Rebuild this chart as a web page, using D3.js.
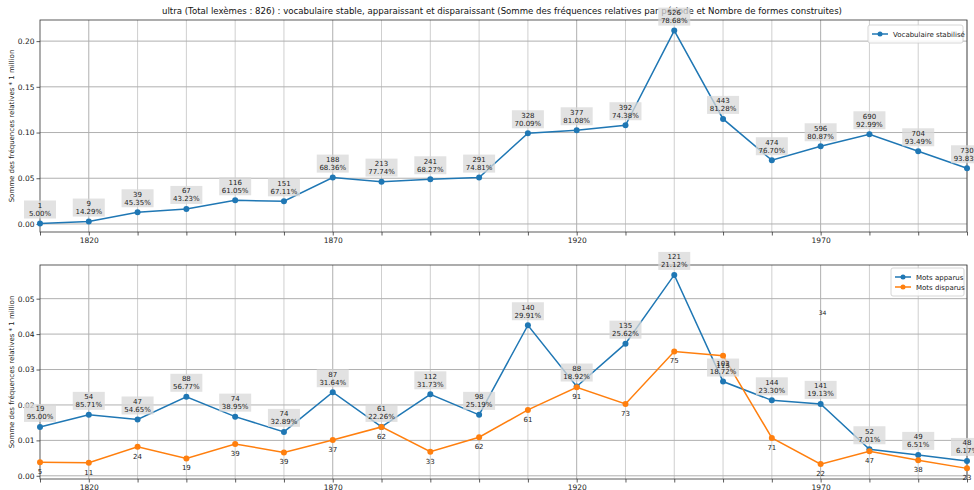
<!DOCTYPE html>
<html>
<head>
<meta charset="utf-8">
<script src="https://cdn.jsdelivr.net/npm/d3@7"></script>
<style>
  body { margin: 0; background: #fff; }
  svg { font-family: "DejaVu Sans", sans-serif; display: block; }
</style>
</head>
<body>
<div id="chart"></div>
<script>
// periods (decades)
const years = [1810, 1820, 1830, 1840, 1850, 1860, 1870, 1880, 1890, 1900,
               1910, 1920, 1930, 1940, 1950, 1960, 1970, 1980, 1990, 2000];
const majorYears = [1820, 1870, 1920, 1970];

// top: vocabulaire stabilisé
const stableValues = [0.0005, 0.0026, 0.0128, 0.0164, 0.0259, 0.0248, 0.0507, 0.0463, 0.0489, 0.0507,
                      0.0992, 0.1025, 0.1080, 0.2115, 0.1149, 0.0697, 0.0850, 0.0981, 0.0795, 0.0609];
const stableCounts = [1, 9, 39, 67, 116, 151, 188, 213, 241, 291,
                      328, 377, 392, 526, 443, 474, 596, 690, 704, 730];
const stablePct = ["5.00%", "14.29%", "45.35%", "43.23%", "61.05%", "67.11%", "68.36%", "77.74%", "68.27%", "74.81%",
                   "70.09%", "81.08%", "74.38%", "78.68%", "81.28%", "76.70%", "80.87%", "92.99%", "93.49%", "93.83%"];

// bottom: mots apparus / disparus
const apparusValues = [0.0138, 0.0172, 0.0159, 0.0223, 0.0167, 0.0124, 0.0236, 0.0138, 0.0230, 0.0172,
                       0.0425, 0.0252, 0.0373, 0.0567, 0.0266, 0.0213, 0.0203, 0.0075, 0.0059, 0.0042];
const apparusCounts = [19, 54, 47, 88, 74, 74, 87, 61, 112, 98,
                       140, 88, 135, 121, 102, 144, 141, 52, 49, 48];
const apparusPct = ["95.00%", "85.71%", "54.65%", "56.77%", "38.95%", "32.89%", "31.64%", "22.26%", "31.73%", "25.19%",
                    "29.91%", "18.92%", "25.62%", "21.12%", "18.72%", "23.30%", "19.13%", "7.01%", "6.51%", "6.17%"];
const disparusValues = [0.0038, 0.0037, 0.0082, 0.0049, 0.0090, 0.0066, 0.0101, 0.0138, 0.0068, 0.0109,
                        0.0186, 0.0250, 0.0203, 0.0351, 0.0339, 0.0107, 0.0033, 0.0069, 0.0044, 0.0021];
const disparusCounts = [5, 11, 24, 19, 39, 39, 37, 62, 33, 62,
                        61, 91, 73, 75, 113, 71, 22, 47, 38, 23];
const strayLabel = { year: 1970, value: 0.0455, text: "34" };

const topTicks = [0, 0.05, 0.10, 0.15, 0.20];
const bottomTicks = [0, 0.01, 0.02, 0.03, 0.04, 0.05];

const width = 974, height = 490;
const blue = "#1f77b4", orange = "#ff7f0e";

const svg = d3.select("#chart").append("svg")
    .attr("width", width)
    .attr("height", height);

svg.append("text")
    .attr("x", 502).attr("y", 14)
    .attr("text-anchor", "middle")
    .attr("font-size", 8.6)
    .attr("fill", "#111")
    .text("ultra (Total lexèmes : 826) : vocabulaire stable, apparaissant et disparaissant (Somme des fréquences relatives par période et Nombre de formes construites)");

const x = d3.scaleLinear().domain([1810, 2000]).range([40, 967]);

function drawPanel(top, bottom, yDomain, yTicks, fmt) {
    const y = d3.scaleLinear().domain(yDomain).range([bottom, top]);
    const g = svg.append("g");

    // grid
    g.selectAll(".vgrid").data(years.slice(1)).enter().append("line")
        .attr("x1", d => x(d)).attr("x2", d => x(d))
        .attr("y1", top).attr("y2", bottom)
        .attr("stroke", d => majorYears.includes(d) ? "#b0b0b0" : "#cfcfcf")
        .attr("stroke-width", 1);
    g.selectAll(".hgrid").data(yTicks).enter().append("line")
        .attr("x1", 40).attr("x2", 967)
        .attr("y1", d => y(d)).attr("y2", d => y(d))
        .attr("stroke", "#b0b0b0")
        .attr("stroke-width", 1);

    // axes
    const yAxis = g.append("g")
        .attr("transform", "translate(40,0)")
        .call(d3.axisLeft(y).tickValues(yTicks).tickFormat(fmt).tickSize(3.5).tickPadding(2));
    const xAxis = g.append("g")
        .attr("transform", `translate(0,${bottom})`)
        .call(d3.axisBottom(x).tickValues(years).tickSize(3.5).tickPadding(2)
            .tickFormat(d => majorYears.includes(d) ? d : ""));
    [yAxis, xAxis].forEach(a => {
        a.selectAll("text").attr("font-size", 7.5).attr("fill", "#222")
            .attr("font-family", "DejaVu Sans");
        a.selectAll("line").attr("stroke", "#333").attr("stroke-width", 0.8);
        a.select(".domain").remove();
    });

    // frame
    g.append("rect")
        .attr("x", 40).attr("y", top)
        .attr("width", 927).attr("height", bottom - top)
        .attr("fill", "none")
        .attr("stroke", "#333").attr("stroke-width", 0.8);

    // y label
    svg.append("text")
        .attr("transform", `translate(14,${(top + bottom) / 2}) rotate(-90)`)
        .attr("text-anchor", "middle")
        .attr("font-size", 7)
        .attr("fill", "#222")
        .text("Somme des fréquences relatives * 1 million");

    return { g, y };
}

function drawSeries(panel, values, color) {
    const pts = years.map((yr, i) => ({ yr, v: values[i] }));
    const line = d3.line().x(d => x(d.yr)).y(d => panel.y(d.v));
    panel.g.append("path")
        .datum(pts)
        .attr("d", line)
        .attr("fill", "none")
        .attr("stroke", color)
        .attr("stroke-width", 1.5);
    panel.g.selectAll(null).data(pts).enter().append("circle")
        .attr("cx", d => x(d.yr)).attr("cy", d => panel.y(d.v))
        .attr("r", 3)
        .attr("fill", color);
    return pts;
}

function boxLabels(panel, values, counts, pcts) {
    years.forEach((yr, i) => {
        const cx = x(yr), cy = panel.y(values[i]);
        const lab = panel.g.append("g");
        lab.append("rect")
            .attr("x", cx - 16).attr("y", cy - 23)
            .attr("width", 32).attr("height", 18)
            .attr("fill", "#d8d8d8").attr("fill-opacity", 0.75);
        lab.append("text")
            .attr("x", cx).attr("y", cy - 15.5)
            .attr("text-anchor", "middle").attr("font-size", 7).attr("fill", "#222")
            .text(counts[i]);
        lab.append("text")
            .attr("x", cx).attr("y", cy - 7.5)
            .attr("text-anchor", "middle").attr("font-size", 7).attr("fill", "#222")
            .text(pcts[i]);
    });
}

function legend(entries, x0, y0, w) {
    const h = 8 + entries.length * 10;
    const lg = svg.append("g");
    lg.append("rect")
        .attr("x", x0).attr("y", y0).attr("width", w).attr("height", h)
        .attr("fill", "#fff").attr("fill-opacity", 0.85)
        .attr("stroke", "#ccc").attr("stroke-width", 0.8).attr("rx", 2);
    entries.forEach((e, i) => {
        const yy = y0 + 9 + i * 10;
        lg.append("line").attr("x1", x0 + 4).attr("x2", x0 + 20)
            .attr("y1", yy).attr("y2", yy)
            .attr("stroke", e.color).attr("stroke-width", 1.5);
        lg.append("circle").attr("cx", x0 + 12).attr("cy", yy).attr("r", 2.5).attr("fill", e.color);
        lg.append("text").attr("x", x0 + 25).attr("y", yy + 2.5)
            .attr("font-size", 7).attr("fill", "#222").text(e.label);
    });
}

// top panel
const topPanel = drawPanel(20, 232, [-0.0088, 0.2231], topTicks, d3.format(".2f"));
drawSeries(topPanel, stableValues, blue);
boxLabels(topPanel, stableValues, stableCounts, stablePct);
legend([{ label: "Vocabulaire stabilisé", color: blue }], 868, 25, 95);

// bottom panel
const botPanel = drawPanel(265, 479, [-0.0009, 0.0595], bottomTicks, d3.format(".2f"));
drawSeries(botPanel, apparusValues, blue);
drawSeries(botPanel, disparusValues, orange);
boxLabels(botPanel, apparusValues, apparusCounts, apparusPct);
years.forEach((yr, i) => {
    botPanel.g.append("text")
        .attr("x", x(yr)).attr("y", botPanel.y(disparusValues[i]) + 12)
        .attr("text-anchor", "middle").attr("font-size", 7).attr("fill", "#222")
        .text(disparusCounts[i]);
});
botPanel.g.append("text")
    .attr("x", x(strayLabel.year) + 2).attr("y", botPanel.y(strayLabel.value))
    .attr("text-anchor", "middle").attr("font-size", 6).attr("fill", "#222")
    .text(strayLabel.text);
legend([{ label: "Mots apparus", color: blue }, { label: "Mots disparus", color: orange }], 891, 268, 73);
</script>
</body>
</html>
